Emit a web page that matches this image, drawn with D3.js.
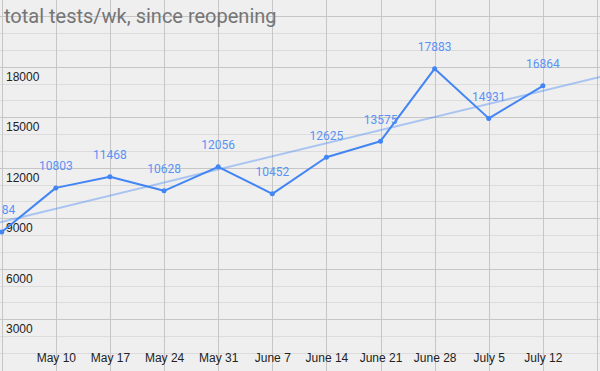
<!DOCTYPE html>
<html><head><meta charset="utf-8">
<script src="https://cdn.jsdelivr.net/npm/d3@7"></script>
<style>html,body{margin:0;padding:0;background:#efefef;}svg{display:block;}</style>
</head><body>
<svg id="c" width="600" height="371"></svg>
<script>
const weeks = ["2020-05-03","2020-05-10","2020-05-17","2020-05-24","2020-05-31","2020-06-07","2020-06-14","2020-06-21","2020-06-28","2020-07-05","2020-07-12"];
const tests = [8184, 10803, 11468, 10628, 12056, 10452, 12625, 13575, 17883, 14931, 16864];
const xTickLabels = ["May 10","May 17","May 24","May 31","June 7","June 14","June 21","June 28","July 5","July 12"];
const yTickValues = [3000, 6000, 9000, 12000, 15000, 18000];
const title = "total tests/wk, since reopening";

const W = 600, H = 371;
const svg = d3.select("#c");
const parse = d3.utcParse("%Y-%m-%d");
const dates = weeks.map(parse);
const x = d3.scaleUtc().domain([parse("2020-05-03"), parse("2020-07-19")]).range([1.7, 597]);
const y = d3.scaleLinear().domain([0, 18000]).range([369.8, 66.7]);

svg.append("rect").attr("width", W).attr("height", H).attr("fill", "#efefef");

// horizontal gridlines
const gridVals = d3.range(1000, 22000, 1000);
svg.append("g").selectAll("line").data(gridVals).join("line")
  .attr("x1", 0).attr("x2", W)
  .attr("y1", d => Math.round(y(d)) + 0.5).attr("y2", d => Math.round(y(d)) + 0.5)
  .attr("stroke", d => d % 3000 === 0 ? "#c6c6c6" : "#dcdcdc").attr("stroke-width", 1);

// vertical gridlines
const vDates = d3.utcWeek.range(parse("2020-05-03"), parse("2020-07-20"));
svg.append("g").selectAll("line").data(vDates).join("line")
  .attr("x1", d => Math.round(x(d)) + 0.5).attr("x2", d => Math.round(x(d)) + 0.5)
  .attr("y1", 0).attr("y2", H)
  .attr("stroke", "#c6c6c6").attr("stroke-width", 1);

// y labels
svg.append("g").selectAll("text").data(yTickValues).join("text")
  .attr("x", 6).attr("y", d => y(d) + 13.8)
  .attr("font-family", "Arial, 'Liberation Sans', sans-serif").attr("font-size", 12)
  .attr("fill", "#222").text(d => d);

// x labels
const xAxis = d3.axisBottom(x)
  .tickValues(dates.slice(1))
  .tickFormat((d, i) => xTickLabels[i])
  .tickSize(0).tickPadding(0);
const gx = svg.append("g").attr("transform", "translate(0,352)").call(xAxis);
gx.select(".domain").remove();
gx.selectAll("text").attr("font-family", "Arial, 'Liberation Sans', sans-serif")
  .attr("font-size", 12).attr("fill", "#222").attr("dy", null).attr("y", 10);

// title
svg.append("text").attr("x", 4).attr("y", 22.5)
  .attr("font-family", "Roboto, sans-serif").attr("font-size", 20)
  .attr("fill", "#757575").text(title);

// trendline (linear regression)
const xi = d3.range(tests.length);
const mx = d3.mean(xi), my = d3.mean(tests);
const slope = d3.sum(xi, i => (i - mx) * (tests[i] - my)) / d3.sum(xi, i => (i - mx) ** 2);
const icpt = my - slope * mx;
const dayMs = 86400000;
const t0 = x.invert(0), t1 = x.invert(W);
const trendVal = t => icpt + slope * ((t - dates[0]) / (7 * dayMs));
svg.append("line")
  .attr("x1", 0).attr("y1", y(trendVal(t0)))
  .attr("x2", W).attr("y2", y(trendVal(t1)))
  .attr("stroke", "#4285F4").attr("stroke-opacity", 0.4).attr("stroke-width", 2);

// point labels
svg.append("g").selectAll("text").data(tests).join("text")
  .attr("x", (d, i) => x(dates[i])).attr("y", d => y(d) - 17.6)
  .attr("text-anchor", "middle")
  .attr("font-family", "Roboto, sans-serif").attr("font-size", 12)
  .attr("fill", "#5a93f5").text(d => d);

// main line
const line = d3.line().x((d, i) => x(dates[i])).y(d => y(d));
svg.append("path").datum(tests).attr("d", line)
  .attr("fill", "none").attr("stroke", "#4285F4").attr("stroke-width", 2)
  .attr("stroke-linejoin", "round");
svg.append("g").selectAll("circle").data(tests).join("circle")
  .attr("cx", (d, i) => x(dates[i])).attr("cy", d => y(d)).attr("r", 2.5)
  .attr("fill", "#4285F4");
</script>
</body></html>
